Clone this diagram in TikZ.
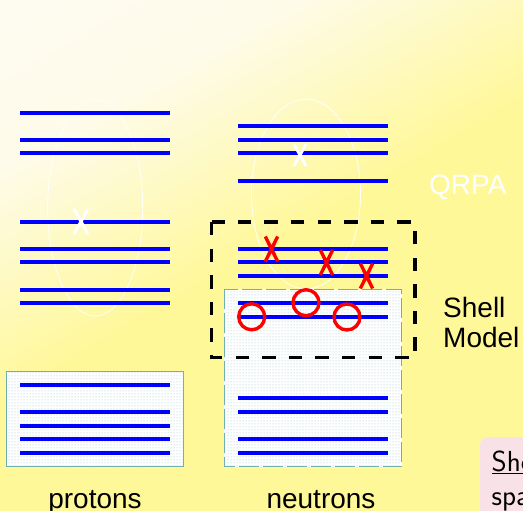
\documentclass[tikz,border=0pt]{standalone}
\usepackage{fontspec}
\setmainfont{Liberation Sans}
\usetikzlibrary{patterns}
\definecolor{bgwhite}{RGB}{254,253,249}
\definecolor{bgpale}{RGB}{254,251,234}
\definecolor{bgyellow}{RGB}{255,248,152}
\definecolor{lvlblue}{RGB}{0,0,255}
\definecolor{boxteal}{RGB}{110,175,175}
\definecolor{dotteal}{RGB}{150,195,200}
\definecolor{notepink}{RGB}{248,226,232}
\pgfdeclarehorizontalshading{bgshade}{100bp}{color(0bp)=(bgwhite); color(30bp)=(bgpale); color(50bp)=(bgyellow); color(100bp)=(bgyellow)}
\tikzset{
  level/.style={draw=lvlblue, line width=3.6pt},
  occbox/.style={draw=boxteal, line width=0.8pt, fill=white, postaction={pattern=dots, pattern color=dotteal}},
  corr/.style={draw=white, line width=0.8pt},
  whitex/.style={draw=white, line width=3pt},
  redx/.style={draw=red, line width=3.4pt},
  redo/.style={draw=red, line width=3.4pt},
  smbox/.style={draw=black, line width=3.4pt, dash pattern=on 13.3pt off 13.3pt},
  lbl/.style={font=\fontsize{28}{30}\selectfont, text=black, inner sep=0pt},
}
\begin{document}
\begin{tikzpicture}[x=1pt,y=-1pt]
\useasboundingbox (0,0) rectangle (523,511);
\clip (0,0) rectangle (523,511);
\shade[shading=bgshade, shading angle=-60] (0,0) rectangle (523,511);

% correlation ellipses
\draw[corr] (95.2,208) ellipse [x radius=47.5, y radius=108];
\draw[corr] (306,194) ellipse [x radius=54.5, y radius=95];

% core boxes
\draw[occbox] (6.7,371.7) rectangle (183.3,466.7);
\draw[occbox, dash pattern=on 20pt off 4pt] (224,289.3) rectangle (401.7,466.7);

% proton levels
\foreach \y in {113,140,153,222,249,262,290,303,385,412,426,439,453}
  \draw[level] (20,\y) -- (170,\y);
% neutron levels
\foreach \y in {126,140,153,181,249,262,276,303,317,398,412,439,453}
  \draw[level] (238,\y) -- (388,\y);

% white crosses
\draw[whitex] (74,209) -- (88,234) (88,209) -- (74,234);
\draw[whitex] (294,144) -- (306,166) (306,144) -- (294,166);

% red crosses
\foreach \cx/\cy in {271.5/249, 326.5/262.5, 366.5/276}
  \draw[redx] (\cx-6.2,\cy-12.5) -- (\cx+6.2,\cy+12.5) (\cx+6.2,\cy-12.5) -- (\cx-6.2,\cy+12.5);

% red circles
\draw[redo] (251.7,316.8) circle [radius=13];
\draw[redo] (306,302.7) circle [radius=13];
\draw[redo] (347,317) circle [radius=13];

% shell model space
\draw[smbox] (211.5,222) rectangle (415,357.5);

% labels
\node[lbl, text=white, anchor=base west] (qrpa) at (429,194) {QRPA};
\node[lbl, anchor=base west, align=left] (sm) at (443,347) {Shell\\Model};
\node[lbl, anchor=base] (prot) at (95,508) {protons};
\node[lbl, anchor=base] (neut) at (321,508) {neutrons};

% note box (cut off by the frame)
\fill[notepink, rounded corners=8pt] (480,437) rectangle (560,540);
\node[lbl, font=\fontsize{29}{33.5}\selectfont\sffamily, anchor=base west, align=left] (note) at (491.5,505) {\underline{Shell model}\\space};
\end{tikzpicture}
\end{document}
